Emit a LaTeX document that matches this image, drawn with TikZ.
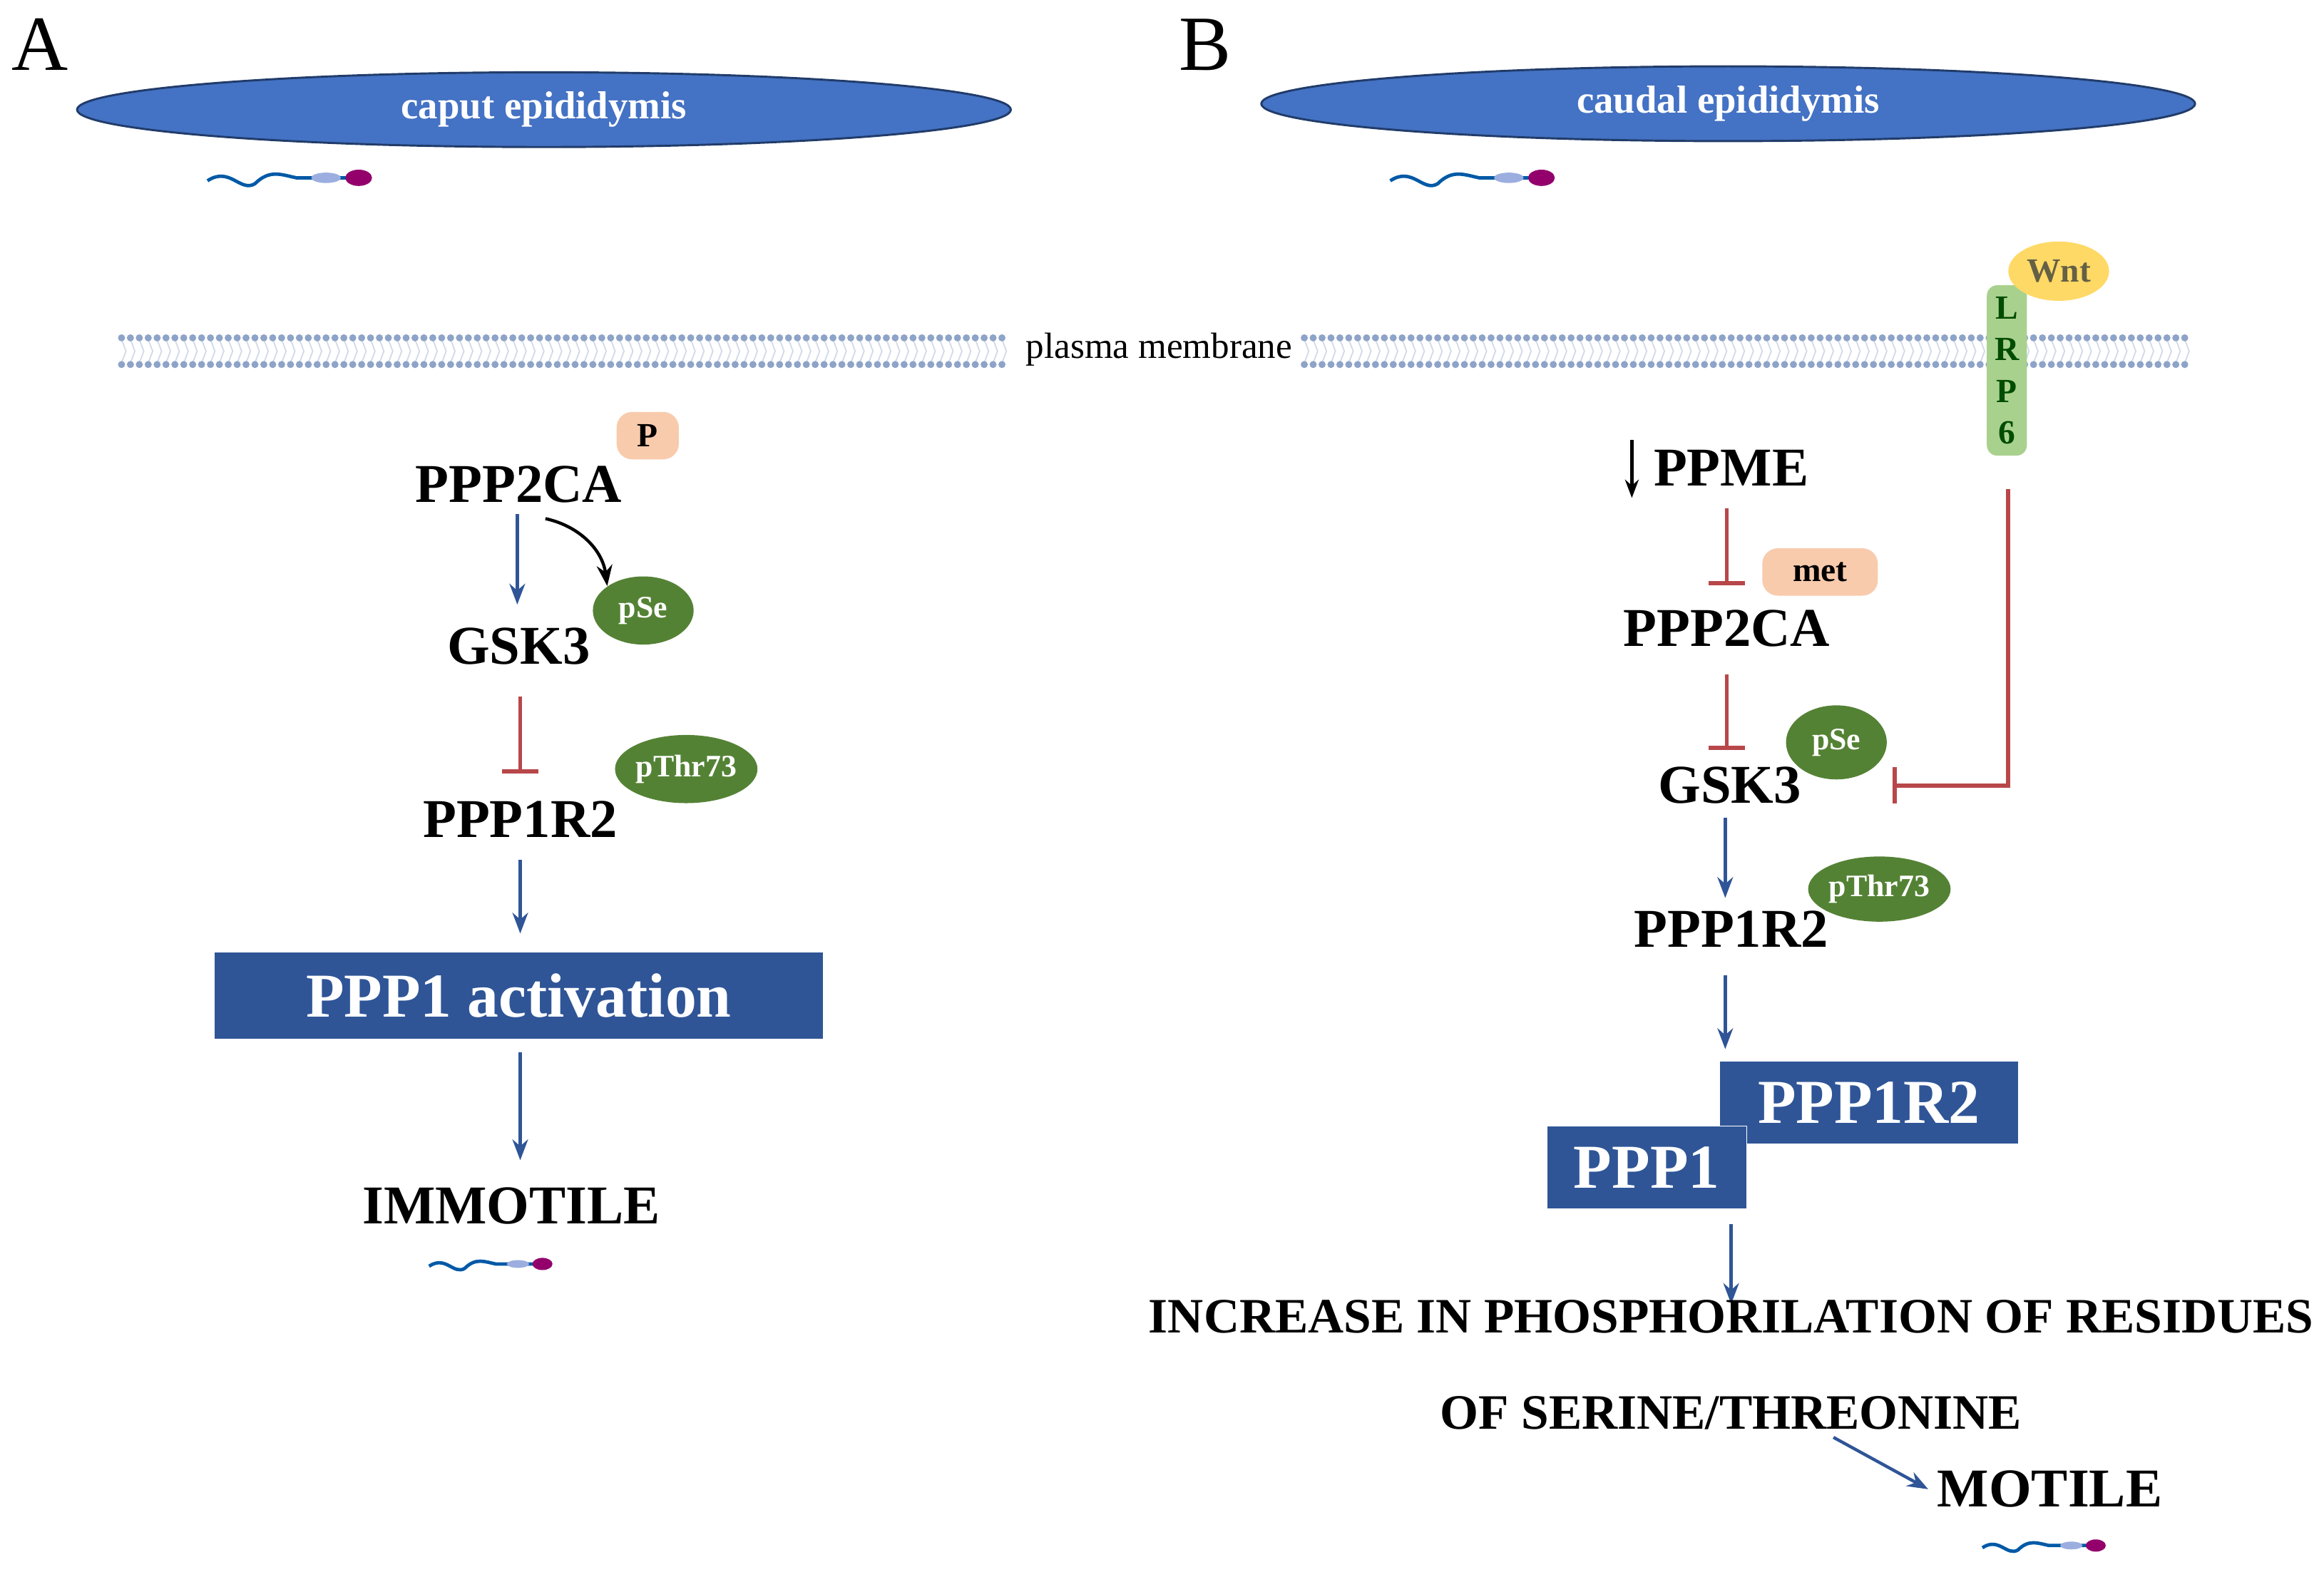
\documentclass[tikz,border=0pt]{standalone}
\usepackage{fontspec}
\setmainfont{Liberation Serif}
\usetikzlibrary{arrows.meta,positioning,shapes.geometric}
\definecolor{epiblue}{HTML}{4472C4}
\definecolor{boxblue}{HTML}{2F5597}
\definecolor{inhred}{HTML}{B8474A}
\definecolor{pgreen}{HTML}{548235}
\definecolor{peach}{HTML}{F8CBAD}
\definecolor{lrpgreen}{HTML}{A9D18E}
\definecolor{wntyel}{HTML}{FFD966}
\definecolor{lipid}{HTML}{8EA3C8}
\tikzset{
  prot/.style={font=\fontsize{21}{23}\selectfont\bfseries},
  epi/.style={ellipse,draw=boxblue!70!black,thick,fill=epiblue,text=white,font=\fontsize{15}{17}\selectfont\bfseries},
  phos/.style={ellipse,fill=pgreen,text=white,font=\fontsize{12}{14}\selectfont\bfseries,inner sep=0pt},
  modtag/.style={rounded corners=6pt,fill=peach,font=\fontsize{13}{15}\selectfont\bfseries},
  bigbox/.style={fill=boxblue,text=white,draw=white,font=\fontsize{24}{26}\selectfont\bfseries},
  act/.style={-{Stealth[length=8pt]},boxblue,line width=1.2pt},
  inh/.style={-{Bar[width=14pt]},inhred,line width=1.6pt},
  sperm/.pic={
    \draw[teal!70!blue,line width=1.3pt] (-70,2) .. controls (-55,-8) and (-48,10) .. (-38,4) .. controls (-28,-6) and (-20,-2) .. (-10,0) -- (28,0);
    \fill[cyan!40!blue!40] (10,0) ellipse (10 and 3.5);
    \fill[violet!70!purple] (32,0) ellipse (9 and 5.5);
  }
}
\begin{document}
\begin{tikzpicture}[x=0.02cm,y=-0.02cm]
\useasboundingbox (0,0) rectangle (1568,1064);
% panel letters
\node[font=\fontsize{30}{32}\selectfont] (lblA) at (27,30) {A};
\node[font=\fontsize{30}{32}\selectfont] (lblB) at (813,30) {B};
% epididymis
\node[epi,minimum width=630*0.02cm,minimum height=44*0.02cm] (caput) at (367,74) {caput epididymis};
\node[epi,minimum width=630*0.02cm,minimum height=46*0.02cm] (cauda) at (1166,70) {caudal epididymis};
\pic at (210,120) {sperm};
\pic at (1008,120) {sperm};
\pic[scale=0.75] at (342,853) {sperm};
\pic[scale=0.75] at (1390,1043) {sperm};
% membrane
\foreach \xa in {82,880}{
  \foreach \i [evaluate=\i as \x using \xa+6*\i] in {0,...,99}{
    \draw[lipid!40,line width=0.5pt] (\x,229) -- (\x+3,237) -- (\x,245);
    \fill[lipid] (\x,228) circle (2.4);
    \fill[lipid] (\x,246) circle (2.4);
  }
}
\node[font=\fontsize{14}{16}\selectfont,fill=white,inner xsep=1pt] (memb) at (782,236) {plasma membrane};
% panel A
\node[prot] (caA) at (350,327) {PPP2CA};
\node[modtag,minimum width=42*0.02cm,minimum height=32*0.02cm] (pA) at (437,294) {P};
\node[prot] (gskA) at (350,436) {GSK3};
\node[phos,minimum width=68*0.02cm,minimum height=46*0.02cm] (pseA) at (434,412) {pSe};
\node[prot] (r2A) at (351,553) {PPP1R2};
\node[phos,minimum width=88*0.02cm,minimum height=46*0.02cm] (thrA) at (463,519) {pThr73};
\node[bigbox,minimum width=411*0.02cm,minimum height=59*0.02cm] (actA) at (350,672) {PPP1 activation};
\node[prot] (immo) at (345,814) {IMMOTILE};
\coordinate (a1) at (349,347); \coordinate (a2) at (349,408);
\draw[act] (a1) -- (a2);
\coordinate (c1) at (368,350);
\draw[-{Stealth[length=8pt]},line width=1.2pt] (c1) to[bend left=35] (pseA.north west);
\coordinate (i1) at (351,470); \coordinate (i2) at (351,522);
\draw[inh] (i1) -- (i2);
\coordinate (a3) at (351,580); \coordinate (a4) at (351,630);
\draw[act] (a3) -- (a4);
\coordinate (a5) at (351,710); \coordinate (a6) at (351,783);
\draw[act] (a5) -- (a6);
% panel B
\node[prot] (ppme) at (1168,316) {PPME};
\coordinate (dtop) at (1101,297);
\coordinate (dbot) at (1101,336);
\draw[-{Stealth[length=7pt]},line width=1.2pt] (dtop) -- (dbot);
\node[prot] (caB) at (1165,424) {PPP2CA};
\node[modtag,minimum width=78*0.02cm,minimum height=32*0.02cm] (met) at (1228,386) {met};
\node[prot] (gskB) at (1167,530) {GSK3};
\node[phos,minimum width=68*0.02cm,minimum height=50*0.02cm] (pseB) at (1239,501) {pSe};
\node[prot] (r2B) at (1168,627) {PPP1R2};
\node[phos,minimum width=86*0.02cm,minimum height=44*0.02cm] (thrB) at (1268,600) {pThr73};
\node[rounded corners=4pt,fill=lrpgreen,minimum width=27*0.02cm,minimum height=115*0.02cm,text=green!30!black,font=\fontsize{13}{16}\selectfont\bfseries,align=center,inner sep=0pt] (lrp) at (1354,250) {L\\R\\P\\6};
\node[ellipse,fill=wntyel,text=yellow!30!black,minimum width=68*0.02cm,minimum height=40*0.02cm,inner sep=0pt,font=\fontsize{13}{15}\selectfont\bfseries] (wnt) at (1389,183) {Wnt};
\coordinate (b1) at (1165,343); \coordinate (b2) at (1165,395);
\draw[inh] (b1) -- (b2);
\coordinate (b3) at (1165,455); \coordinate (b4) at (1165,506);
\draw[inh] (b3) -- (b4);
\coordinate (lrpdown) at (1355,330); \coordinate (lrpend) at (1277,530);
\draw[inh] (lrpdown) |- (lrpend);
\coordinate (b5) at (1164,552); \coordinate (b6) at (1164,606);
\draw[act] (b5) -- (b6);
\coordinate (b7) at (1164,658); \coordinate (b8) at (1164,708);
\draw[act] (b7) -- (b8);
\node[bigbox,minimum width=202*0.02cm,minimum height=56*0.02cm] (r2box) at (1261,744) {PPP1R2};
\node[bigbox,minimum width=135*0.02cm,minimum height=56*0.02cm] (p1box) at (1111,788) {PPP1};
\coordinate (b9) at (1168,826); \coordinate (b10) at (1168,880);
\draw[act] (b9) -- (b10);
\node[prot,align=center,font=\fontsize{19}{37}\selectfont\bfseries] (incr) at (1168,921) {INCREASE IN PHOSPHORILATION OF RESIDUES\\OF SERINE/THREONINE};
\node[prot] (moti) at (1383,1005) {MOTILE};
\coordinate (b11) at (1237,970);
\draw[act] (b11) -- (moti.west);
\end{tikzpicture}
\end{document}
